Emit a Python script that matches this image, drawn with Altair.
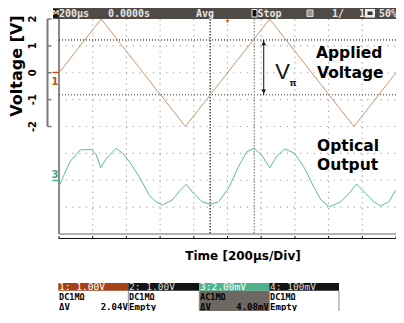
import altair as alt
import pandas as pd

# ---- data ----
tri_t = [0, 250, 750, 1250, 1750, 2000]          # µs
tri_v = [0, 2, -2, 2, -2, 0]                      # V (ch1, 1 V/div)

opt_t = [0, 25, 65, 124, 192, 222, 247, 281, 339, 378, 418, 476, 535, 575, 614,
         672, 712, 755, 790, 849, 898, 947, 1006, 1065, 1114, 1159, 1202, 1251,
         1290, 1339, 1398, 1457, 1516, 1555, 1604, 1672, 1722, 1766, 1810, 1869,
         1908, 1957, 2000]
opt_mv = [-0.48, 0.26, 1.38, 2.25, 2.30, 1.88, 0.93, 1.63, 2.38, 2.01, 1.38, 0.26,
          -1.10, -1.60, -1.84, -1.47, -0.85, -0.30, -0.85, -1.60, -1.79, -1.60,
          -0.60, 1.01, 2.12, 2.38, 1.88, 0.93, 1.75, 2.33, 2.01, 0.89, -0.60,
          -1.47, -1.97, -1.60, -0.97, -0.28, -0.85, -1.60, -1.92, -1.60, -0.73]
ch3_ground = -4      # divisions (in ch1 volts)
ch3_scale = 2        # mV/div

h_cursors = [1.22, -0.82]
t_cursors = [897, 1159]
y_tick_vals = [2, 1, 0, -1, -2]
grid_t = [200, 400, 600, 800, 1000, 1200, 1400, 1600, 1800]
grid_v = [1, 0, -1, -2, -3, -4, -5]
x_tick_vals = [0, 200, 400, 600, 800, 1000, 1200, 1400, 1600, 1800, 2000]
arrow_t = 1215
trig_t = 1000

W, H = 337, 215
XS = alt.Scale(domain=[0, 2000], nice=False, zero=False)
YS = alt.Scale(domain=[-6, 2], nice=False, zero=False)

dummy = pd.DataFrame({"k": [0]})
BOLD = "DejaVu Sans"
MONO = "DejaVu Sans Mono"


def xq(f="t"):
    return alt.X(f"{f}:Q", scale=XS, axis=None)


def yq(f="v"):
    return alt.Y(f"{f}:Q", scale=YS, axis=None)


def txt(s, x, y, size=10, color="#000", font=BOLD, weight="bold", align="left", angle=0):
    return alt.Chart(dummy).mark_text(
        text=s, fontSize=size, color=color, font=font, fontWeight=weight,
        align=align, baseline="middle", angle=angle
    ).encode(x=alt.value(x), y=alt.value(y))


def box(x1, y1, x2, y2, color, stroke=None):
    kw = {"color": color}
    if stroke:
        kw.update(stroke=stroke, strokeWidth=1)
    return alt.Chart(dummy).mark_rect(**kw).encode(
        x=alt.value(x1), x2=alt.value(x2), y=alt.value(y1), y2=alt.value(y2))


def seg(x1, y1, x2, y2, color, w=1, dash=None):
    kw = {"color": color, "strokeWidth": w}
    if dash:
        kw["strokeDash"] = dash
    return alt.Chart(dummy).mark_rule(**kw).encode(
        x=alt.value(x1), x2=alt.value(x2), y=alt.value(y1), y2=alt.value(y2))


layers = []

# grid
gt = pd.DataFrame({"t": grid_t})
gv = pd.DataFrame({"v": grid_v})
layers.append(alt.Chart(gt).mark_rule(color="#a8a8a8", strokeWidth=1.2, strokeDash=[1.2, 4.2])
              .encode(x=xq(), y=alt.value(0), y2=alt.value(H)))
layers.append(alt.Chart(gv).mark_rule(color="#a8a8a8", strokeWidth=1.2, strokeDash=[1.2, 5.5])
              .encode(y=yq(), x=alt.value(0), x2=alt.value(W)))

# screen border
layers.append(seg(0, 0, 0, H, "#8a8a8a", 2))
layers.append(seg(0, H, W + 1, H, "#9a9a9a", 1.5))
layers.append(seg(W + 1, 0, W + 1, H, "#b0b0b0", 1))

# cursors
hc = pd.DataFrame({"v": h_cursors, "c": ["#000000", "#333333"]})
layers.append(alt.Chart(hc).mark_rule(strokeWidth=1, strokeDash=[1, 2])
              .encode(y=yq(), x=alt.value(0), x2=alt.value(W),
                      color=alt.Color("c:N", scale=None)))
vc = pd.DataFrame({"t": t_cursors, "c": ["#222222", "#808080"]})
layers.append(alt.Chart(vc).mark_rule(strokeWidth=1.2, strokeDash=[1.5, 1.5])
              .encode(x=xq(), y=alt.value(0), y2=alt.value(H),
                      color=alt.Color("c:N", scale=None)))

# traces
tri = pd.DataFrame({"t": tri_t, "v": tri_v})
layers.append(alt.Chart(tri).mark_line(color="#d09470", strokeWidth=1)
              .encode(x=xq(), y=yq()))
opt = pd.DataFrame({"t": opt_t, "mv": opt_mv})
layers.append(alt.Chart(opt).transform_calculate(v=f"{ch3_ground} + datum.mv / {ch3_scale}")
              .mark_line(color="#5bbb98", strokeWidth=1)
              .encode(x=xq(), y=yq()))

# V_pi arrow
ar = pd.DataFrame({"t": [arrow_t], "v": [h_cursors[0]], "v2": [h_cursors[1]]})
layers.append(alt.Chart(ar).mark_rule(color="#111", strokeWidth=1)
              .encode(x=xq(), y=yq(), y2="v2:Q"))
ah = pd.DataFrame({"t": [arrow_t, arrow_t], "v": [h_cursors[0] - 0.12, h_cursors[1] + 0.12],
                   "s": ["triangle-up", "triangle-down"]})
layers.append(alt.Chart(ah).mark_point(filled=True, color="#111", size=22, opacity=1)
              .encode(x=xq(), y=yq(), shape=alt.Shape("s:N", scale=None)))
layers.append(txt("V", 223.5, 53, size=22, color="#111", font="Liberation Sans",
                  weight="normal", align="center"))
layers.append(txt("π", 234, 64, size=9, color="#222", align="center"))

# trigger marker
tg = pd.DataFrame({"t": [trig_t], "v": [1.9]})
layers.append(alt.Chart(tg).mark_point(filled=True, color="#d0601c", size=14, shape="triangle-down", opacity=1)
              .encode(x=xq(), y=yq()))

# channel markers
layers.append(seg(-6.5, 53.5, 0, 53.5, "#b5541c", 1.5))
layers.append(txt("1", -4, 62.5, size=10, color="#b5541c", align="center"))
layers.append(seg(-6.5, 161.5, 0, 161.5, "#3fae86", 1.5))
layers.append(txt("3", -4, 156, size=10, color="#3fae86", align="center"))

# annotations
layers.append(txt("Applied", 257, 34, size=15.5))
layers.append(txt("Voltage", 258, 54, size=15.5))
layers.append(txt("Optical", 258, 127, size=15.5))
layers.append(txt("Output", 258, 145.5, size=15.5))

# left axis
layers.append(seg(-11.5, 0, -11.5, 107.5, "#7a7a7a", 2))
yt = pd.DataFrame({"v": y_tick_vals, "lab": [str(v) for v in y_tick_vals]})
layers.append(alt.Chart(yt).mark_rule(color="#7a7a7a", strokeWidth=1.5)
              .encode(y=yq(), x=alt.value(-11.5), x2=alt.value(-7.5)))
layers.append(alt.Chart(yt).mark_text(font=BOLD, fontWeight="bold", fontSize=10, angle=270,
                                      align="center", baseline="middle", color="#000")
              .encode(y=yq(), x=alt.value(-26), text="lab:N"))
layers.append(txt("Voltage [V]", -42, 47, size=16, align="center", angle=270))

# bottom axis
layers.append(seg(0, 219.5, W + 1, 219.5, "#111", 1))
xt = pd.DataFrame({"t": x_tick_vals})
layers.append(alt.Chart(xt).mark_rule(color="#111", strokeWidth=1)
              .encode(x=xq(), y=alt.value(217), y2=alt.value(220)))
layers.append(txt("Time [200µs/Div]", 184, 237, size=12, align="center"))

# header bar
HC = "#e4e4e4"
layers.append(box(-6, -11, W, 0, "#4f4a45"))
layers.append(box(-6, -10, -0.5, -1.5, "#111"))
layers.append(txt("M", -3.2, -5.6, size=7, color="#dddddd", font="DejaVu Sans", align="center"))
layers.append(txt("200µs", 0, -5.5, size=10, color=HC, font=MONO))
layers.append(txt("0.0000s", 49, -5.5, size=10, color=HC, font=MONO))
layers.append(txt("Avg", 137, -5.5, size=10, color=HC, font=MONO))
layers.append(box(193, -9.5, 198, -2, "#111", stroke="#eee"))
layers.append(txt("Stop", 198.5, -5.5, size=10, color=HC, font=MONO))
layers.append(box(248, -9, 254, -2.5, "#9a958f", stroke="#ddd"))
layers.append(txt("1/", 273, -5.5, size=10, color=HC, font=MONO))
layers.append(txt("1", 300, -5.5, size=10, color=HC, font=MONO))
layers.append(box(306, -10, 316, -1.5, "#eee"))
layers.append(box(308.5, -7.5, 313.5, -4, "#333"))
layers.append(txt("50%", 320, -5.5, size=10, color=HC, font=MONO))

# status bar (moved up so the page does not overflow the window)
SB = 264.0
R1a, R1b, R2b = SB, SB + 7.8, SB + 28.5
blocks = [(-0.7, 69.3, "#a5421a", "#ffffff", "1: 1.00V", "DC1MΩ", "ΔV", "2.04V", "#ffffff"),
          (69.3, 140.3, "#141414", "#dddddd", "2: 1.00V", "DC1MΩ", "Empty", "", "#ffffff"),
          (140.3, 210.3, "#4db38a", "#ffffff", "3:2.00mV", "AC1MΩ", "ΔV", "4.08mV", "#6e6863"),
          (210.3, 280.0, "#141414", "#dddddd", "4: 100mV", "DC1MΩ", "Empty", "", "#ffffff")]
for x1, x2, hcol, tcol, head, r2, r3l, r3r, bg in blocks:
    layers.append(box(x1, R1a, x2, R1b, hcol))
    if bg != "#ffffff":
        layers.append(box(x1, R1b, x2, R2b, bg))
    layers.append(txt(head, x1 + 0.8, SB + 3.9, size=9.5, color=tcol, font=MONO, weight="normal"))
    layers.append(txt(r2, x1 + 0.8, SB + 13.5, size=8.5, color="#000", font=MONO))
    layers.append(txt(r3l, x1 + 0.8, SB + 23.5, size=9, color="#000", font=MONO))
    if r3r:
        layers.append(txt(r3r, x2 - 0.5, SB + 23.5, size=9, color="#000", font=MONO, align="right"))
for xs in [69.3, 140.3, 210.3, 280.0]:
    layers.append(seg(xs, R1b, xs, R2b, "#8a8a8a", 1))

chart = alt.layer(*layers).properties(
    width=W, height=H,
    padding={"left": 51, "top": 11, "right": 0, "bottom": 77},
    autosize=alt.AutoSizeParams(type="none"),
    background="#ffffff",
).configure_view(stroke=None)

chart.save("out.html", embed_options={"renderer": "svg", "actions": False})
